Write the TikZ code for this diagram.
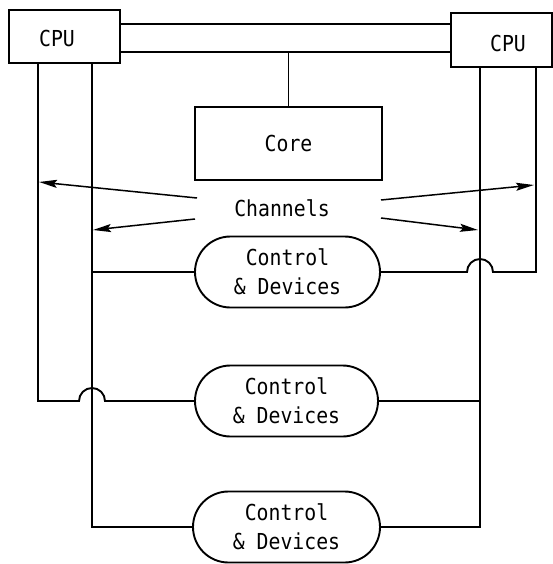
\documentclass[tikz,border=0pt]{standalone}
\usepackage{fontspec}
\setmonofont[FakeStretch=0.9]{DejaVu Sans Mono}
\usetikzlibrary{shapes.misc,arrows.meta}
\begin{document}
\begin{tikzpicture}[x=1pt,y=1pt, line width=1.9pt,
  every node/.style={font=\ttfamily\fontsize{22}{29}\selectfont},
  box/.style={draw, inner sep=0pt},
  lbl/.style={inner sep=0pt},
  cd/.style={draw, rounded rectangle, inner sep=0pt, align=center, minimum height=71pt},
  arr/.style={-{Stealth[length=18pt,width=8pt,inset=3pt]}, line width=1.5pt}]
\useasboundingbox (0,0) rectangle (553,-564);
% boxes
\node[box, minimum width=111pt, minimum height=53pt] (cpuL) at (64.5,-36.5) {};
\node[lbl] (cpuLt) at (57,-38) {CPU};
\node[box, minimum width=101pt, minimum height=54pt] (cpuR) at (501.5,-40) {};
\node[lbl] (cpuRt) at (508,-43) {CPU};
\node[box, minimum width=187pt, minimum height=73pt] (core) at (288.5,-143.5) {Core};
\node[lbl] (chan) at (282,-208) {Channels};
\node[cd, minimum width=185pt] (cdOne) at (287.5,-272) {Control\\\& Devices};
\node[cd, minimum width=183pt] (cdTwo) at (286.5,-401) {Control\\\& Devices};
\node[cd, minimum width=187pt] (cdThree) at (286.5,-527) {Control\\\& Devices};
% helper coordinates
\coordinate (bt) at (0,-24);
\coordinate (bb) at (0,-52);
\coordinate (xa) at (38,0);
\coordinate (xb) at (92,0);
\coordinate (xc) at (480,0);
\coordinate (xd) at (536,0);
% bus and core link
\draw (cpuL.east |- bt) -- (cpuR.west |- bt)
      (cpuL.east |- bb) -- (cpuR.west |- bb) -- (core.north |- bb) -- (core.north);
% left CPU lines
\draw (cpuL.south -| xa) -- (xa |- cdTwo.west) -- ++(41,0)
  arc[start angle=180, end angle=0, radius=13] -- (cdTwo.west);
\draw (cdOne.west) -- (xb |- cdOne.west) -- (cpuL.south -| xb)
      (xb |- cdOne.west) -- (xb |- cdThree.west) -- (cdThree.west);
% right CPU lines
\draw (cdTwo.east) -- (xc |- cdTwo.east) -- (cpuR.south -| xc)
      (xc |- cdTwo.east) -- (xc |- cdThree.east) -- (cdThree.east);
\draw (cpuR.south -| xd) -- (xd |- cdOne.east) -- ++(-43,0)
  arc[start angle=0, end angle=180, radius=13] -- (cdOne.east);
% arrows
\coordinate (a1s) at (197,-198);
\coordinate (a1e) at (39,-182);
\coordinate (a2s) at (195,-219);
\coordinate (a2e) at (93,-230);
\coordinate (a3s) at (381,-200);
\coordinate (a3e) at (534,-185);
\coordinate (a4s) at (381,-218);
\coordinate (a4e) at (478,-230);
\draw[arr] (a1s) -- (a1e);
\draw[arr] (a2s) -- (a2e);
\draw[arr] (a3s) -- (a3e);
\draw[arr] (a4s) -- (a4e);
\end{tikzpicture}
\end{document}
